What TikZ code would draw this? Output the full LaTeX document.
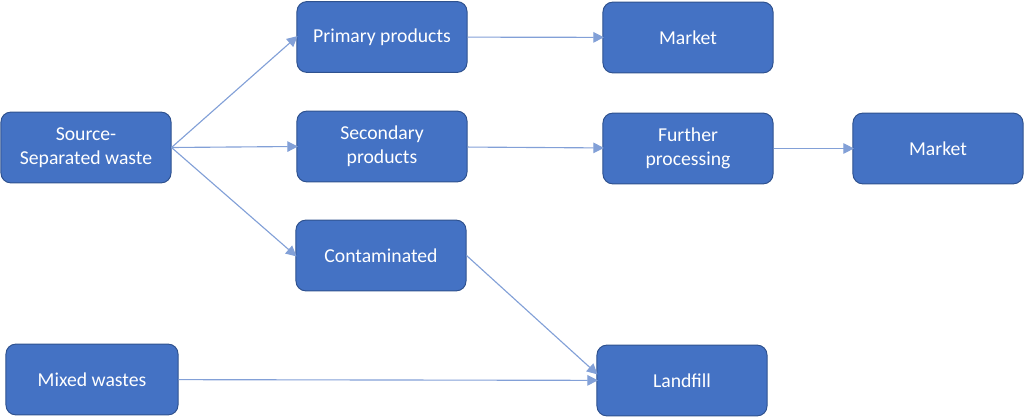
\documentclass[tikz,border=0pt]{standalone}
\usepackage{fontspec}
\setmainfont{Carlito}
\usetikzlibrary{arrows.meta,positioning}
\definecolor{boxblue}{RGB}{68,114,196}
\definecolor{boxedge}{RGB}{47,82,143}
\definecolor{lineblue}{RGB}{130,160,215}

\begin{document}
\begin{tikzpicture}[x=0.025cm,y=-0.025cm,font=\fontsize{14}{17}\selectfont,
      b/.style={draw=boxedge,fill=boxblue,text=white,rounded corners=7pt,
        minimum width=4.25cm,minimum height=1.77cm,align=center,line width=0.7pt},
      a/.style={-{Triangle[length=7.5pt,width=7.5pt]},lineblue,line width=0.8pt,
        shorten >=-1pt}]
      \useasboundingbox (0,0) rectangle (1024,418);
      \node[b] (src) at (86,147.5) {Source-\\Separated waste};
      \node[b] (prim) at (382,37) {Primary products};
      \node[b] (mkt1) at (688,37.5) {Market};
      \node[b] (sec) at (382,146.5) {Secondary\\products};
      \node[b] (proc) at (688,148.5) {Further\\processing};
      \node[b] (mkt2) at (938,148.5) {Market};
      \node[b] (cont) at (381,255.5) {Contaminated};
      \node[b,minimum width=4.3cm] (mix) at (92,379.5) {Mixed wastes};
      \node[b] (land) at (682,380.5) {Landfill};
      % branches out of the sorted stream
      \draw[a] (src.east)--(prim.west);
      \draw[a] (src.east)--(sec.west);
      \draw[a] (src.east)--(cont.west);
      \draw[a] (prim)--(mkt1);
      \draw[a] (sec)--(proc);
      \draw[a] (proc)--(mkt2);
      % everything else goes to landfill
      \draw[a] (cont.east)--([yshift=5pt]land.west);
      \draw[a] (mix)--(land);
    \end{tikzpicture}
\end{document}
